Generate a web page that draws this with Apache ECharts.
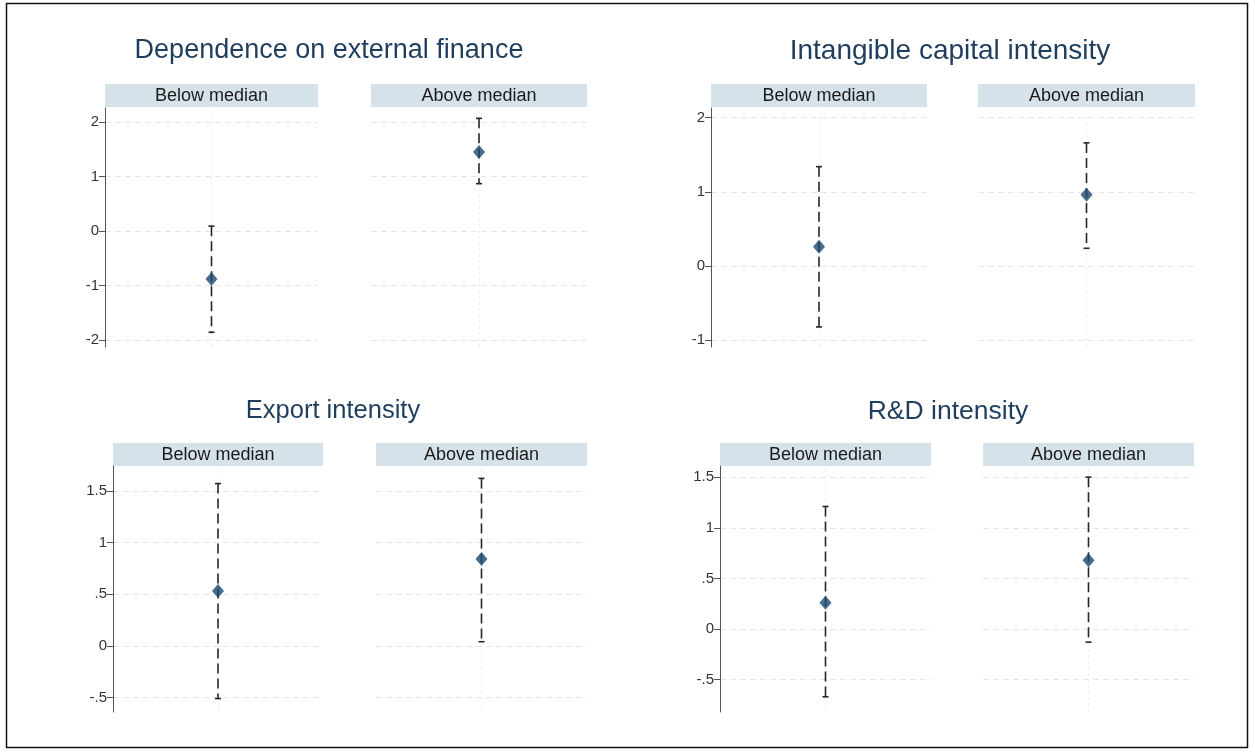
<!DOCTYPE html>
<html>
<head>
<meta charset="utf-8">
<title>Heterogeneous effects by sector characteristics</title>
<script src="https://cdn.jsdelivr.net/npm/echarts@6/dist/echarts.min.js"></script>
<style>
  html, body { margin: 0; padding: 0; background: #ffffff; }
  #chart { width: 1255px; height: 753px; }
</style>
</head>
<body>
<div id="chart"></div>
<script>
// Subgroups shown in every panel
const groups = ['Below median', 'Above median'];

// Panel titles
const panelTitles = [
  'Dependence on external finance',
  'Intangible capital intensity',
  'Export intensity',
  'R&D intensity'
];

// Point estimates and 95% confidence bounds, [below, above]
const finPoint = [-0.88, 1.45];
const finLow   = [-1.86, 0.87];
const finHigh  = [0.09, 2.07];

const intPoint = [0.26, 0.96];
const intLow   = [-0.82, 0.24];
const intHigh  = [1.34, 1.66];

const expPoint = [0.53, 0.84];
const expLow   = [-0.51, 0.04];
const expHigh  = [1.57, 1.62];

const rdPoint  = [0.26, 0.68];
const rdLow    = [-0.67, -0.13];
const rdHigh   = [1.21, 1.50];

// Y-axis tick labels per panel
const finTicks = [-2, -1, 0, 1, 2];
const intTicks = [-1, 0, 1, 2];
const expTicks = [-0.5, 0, 0.5, 1, 1.5];
const rdTicks  = [-0.5, 0, 0.5, 1, 1.5];

const panels = [
  { title: panelTitles[0], point: finPoint, low: finLow, high: finHigh, ticks: finTicks,
    range: [-2.13, 2.26], titleX: 329, titleY: 37, titleSize: 27, top: 108, height: 239, strip: 84,
    cols: [[105, 213], [371, 216]] },
  { title: panelTitles[1], point: intPoint, low: intLow, high: intHigh, ticks: intTicks,
    range: [-1.09, 2.13], titleX: 950, titleY: 37, titleSize: 28, top: 108, height: 239, strip: 84,
    cols: [[711, 216], [978, 217]] },
  { title: panelTitles[2], point: expPoint, low: expLow, high: expHigh, ticks: expTicks,
    range: [-0.64, 1.74], titleX: 333, titleY: 398, titleSize: 25.5, top: 466, height: 246, strip: 443,
    cols: [[113, 210], [376, 211]] },
  { title: panelTitles[3], point: rdPoint, low: rdLow, high: rdHigh, ticks: rdTicks,
    range: [-0.82, 1.61], titleX: 948, titleY: 398, titleSize: 26.5, top: 466, height: 246, strip: 443,
    cols: [[720, 211], [983, 211]] }
];

const NAVY = '#1a476f';
const FONT = '"Liberation Sans", Arial, Helvetica, sans-serif';

// Stata-style numbers: .5 and -.5 without leading zero
function fmt(v) {
  let s = String(v);
  if (s.startsWith('0.')) s = s.slice(1);
  if (s.startsWith('-0.')) s = '-' + s.slice(2);
  return s;
}

const grids = [], xAxes = [], yAxes = [], series = [], titles = [], graphics = [];

panels.forEach((p, pi) => {
  titles.push({
    text: p.title, left: p.titleX, top: p.titleY, textAlign: 'center', padding: 0,
    textStyle: { fontFamily: FONT, fontSize: p.titleSize, fontWeight: 'normal', color: '#1f3d5c' }
  });
  p.cols.forEach((c, gi) => {
    const idx = grids.length;
    grids.push({ left: c[0], top: p.top, width: c[1], height: p.height, containLabel: false });
    xAxes.push({
      type: 'value', gridIndex: idx, min: 0, max: 2,
      axisLine: { show: false }, axisTick: { show: false }, axisLabel: { show: false },
      splitLine: { show: false }
    });
    yAxes.push({
      type: 'value', gridIndex: idx, min: p.range[0], max: p.range[1],
      axisLine: { show: gi === 0, lineStyle: { color: '#555', width: 1 } },
      axisTick: { show: gi === 0, length: 6, customValues: p.ticks, lineStyle: { color: '#555' } },
      axisLabel: { show: gi === 0, customValues: p.ticks, formatter: fmt, margin: 6,
        fontFamily: FONT, fontSize: 15, color: '#333' },
      splitLine: { show: false }
    });
    // horizontal reference grid at tick values, plus a faint centre guide
    series.push({
      type: 'line', xAxisIndex: idx, yAxisIndex: idx, data: [], silent: true, z: 0,
      markLine: {
        silent: true, symbol: 'none', label: { show: false }, animation: false, z: 0,
        lineStyle: { color: '#e6e6e6', type: [6, 4], width: 1 },
        data: p.ticks.map(v => ({ yAxis: v })).concat([{ xAxis: 1, lineStyle: { color: '#eeeeee', type: [3, 3] } }])
      }
    });
    // confidence interval: dashed capped spike
    series.push({
      type: 'custom', xAxisIndex: idx, yAxisIndex: idx, silent: true, z: 3,
      data: [[1, p.low[gi], p.high[gi]]],
      renderItem: function (params, api) {
        const top = api.coord([api.value(0), api.value(2)]);
        const bot = api.coord([api.value(0), api.value(1)]);
        const st = { stroke: '#262626', lineWidth: 1.6, fill: null };
        return {
          type: 'group', children: [
            { type: 'line', shape: { x1: top[0], y1: top[1], x2: bot[0], y2: bot[1] },
              style: Object.assign({ lineDash: [10, 5] }, st) },
            { type: 'line', shape: { x1: top[0] - 3, y1: top[1], x2: top[0] + 3, y2: top[1] }, style: st },
            { type: 'line', shape: { x1: bot[0] - 3, y1: bot[1], x2: bot[0] + 3, y2: bot[1] }, style: st }
          ]
        };
      }
    });
    // point estimate
    series.push({
      type: 'scatter', xAxisIndex: idx, yAxisIndex: idx, z: 4, silent: true,
      symbol: 'diamond', symbolSize: [12, 14],
      itemStyle: { color: NAVY },
      data: [[1, p.point[gi]]]
    });
    // subgroup strip
    graphics.push({
      type: 'rect', shape: { x: c[0], y: p.strip, width: c[1], height: 23 },
      style: { fill: '#d6e2e9' }, silent: true
    });
    graphics.push({
      type: 'text', x: c[0] + c[1] / 2, y: p.strip + 12,
      style: { text: groups[gi], fontFamily: FONT, fontSize: 18, fill: '#1a1a1a',
        align: 'center', verticalAlign: 'middle' }, silent: true
    });
  });
});

// outer frame
graphics.push({
  type: 'rect', shape: { x: 6.5, y: 3.5, width: 1241, height: 744 },
  style: { fill: 'none', stroke: '#111', lineWidth: 1.5 }, silent: true
});

const chart = echarts.init(document.getElementById('chart'), null, { renderer: 'canvas' });
chart.setOption({
  animation: false,
  backgroundColor: '#ffffff',
  title: titles,
  grid: grids,
  xAxis: xAxes,
  yAxis: yAxes,
  series: series,
  graphic: graphics
});
</script>
</body>
</html>
